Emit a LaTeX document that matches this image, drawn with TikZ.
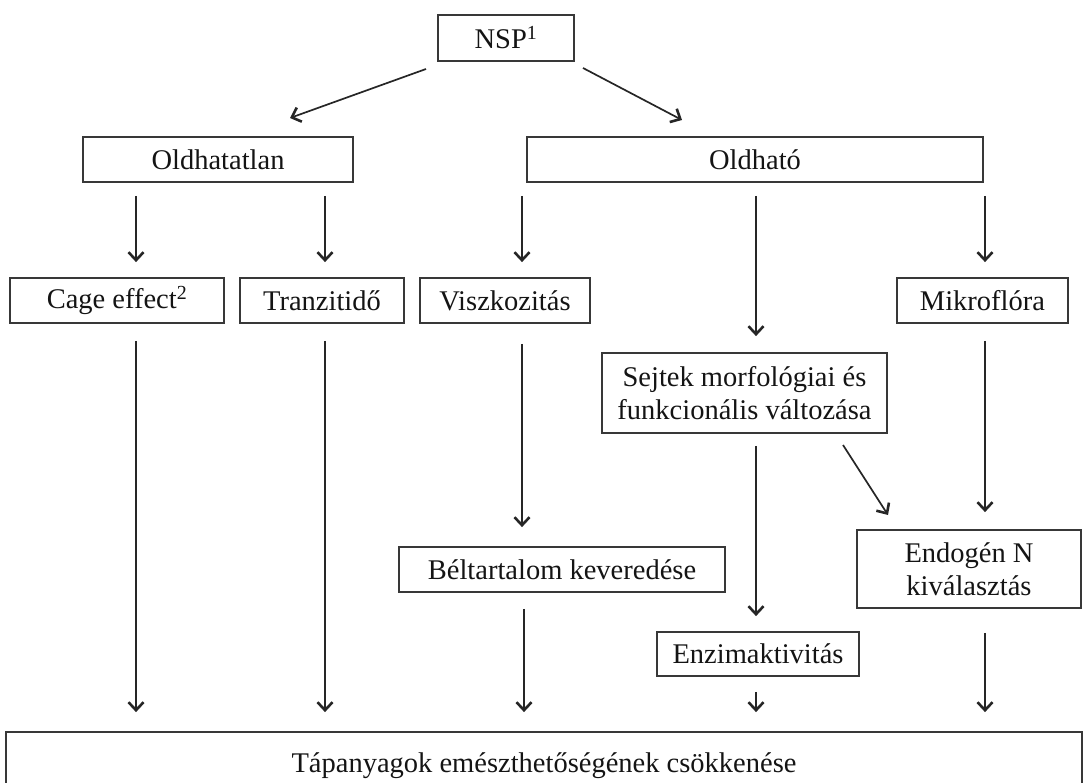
\documentclass[tikz,border=0pt]{standalone}
\usepackage{fontspec}
\setmainfont{Liberation Serif}
\usetikzlibrary{arrows.meta,calc}
\begin{document}
\begin{tikzpicture}[x=1pt,y=-1pt,
  box/.style={draw=black!78,line width=1.8pt,inner sep=0pt,align=center,font=\fontsize{28.5}{33}\selectfont,text=black!92},
  arr/.style={draw=black!85,line width=1.7pt,-{Straight Barb[length=8pt,width=15pt,line width=2.6pt]}}]
\useasboundingbox (0,0) rectangle (1086,783);
% boxes
\node[box,minimum width=136pt,minimum height=46pt] (nsp) at (506,38) {NSP\textsuperscript{1}};
\node[box,minimum width=270pt,minimum height=45pt] (oldhatatlan) at (218,159.5) {Oldhatatlan};
\node[box,minimum width=456pt,minimum height=45pt] (oldhato) at (755,159.5) {Oldható};
\node[box,minimum width=214pt,minimum height=45pt] (cage) at (117,300.5) {Cage effect\textsuperscript{2}};
\node[box,minimum width=164pt,minimum height=45pt] (tranzit) at (322,300.5) {Tranzitidő};
\node[box,minimum width=170pt,minimum height=45pt] (visz) at (505,300.5) {Viszkozitás};
\node[box,minimum width=171pt,minimum height=45pt] (mikro) at (982.5,300.5) {Mikroflóra};
\node[box,minimum width=285pt,minimum height=80pt] (sejtek) at (744.5,393) {Sejtek morfológiai és\\funkcionális változása};
\node[box,minimum width=326pt,minimum height=45pt] (belt) at (562,569.5) {Béltartalom keveredése};
\node[box,minimum width=224pt,minimum height=78pt] (endogen) at (969,569) {Endogén N\\kiválasztás};
\node[box,minimum width=202pt,minimum height=44pt] (enzim) at (758,654) {Enzimaktivitás};
\node[box,minimum width=1076pt,minimum height=68pt] (tap) at (544,766) {Tápanyagok emészthetőségének csökkenése};
% columns
\coordinate (cA) at (136,0);
\coordinate (cB) at (325,0);
\coordinate (cC) at (522,0);
\coordinate (cC2) at (524,0);
\coordinate (cD) at (756,0);
\coordinate (cE) at (985,0);
% diagonal ends
\coordinate (n1) at (426,69);
\coordinate (o1) at (290,118);
\coordinate (n2) at (583,68);
\coordinate (o2) at (682,120);
\coordinate (s1) at (843,445);
\coordinate (e1) at (888,515);
% arrows
\draw[arr] (n1) -- (o1);
\draw[arr] (n2) -- (o2);
\draw[arr,shorten <=13pt,shorten >=15pt] (oldhatatlan.south -| cA) -- (cage.north -| cA);
\draw[arr,shorten <=13pt,shorten >=15pt] (oldhatatlan.south -| cB) -- (tranzit.north -| cB);
\draw[arr,shorten <=13pt,shorten >=15pt] (oldhato.south -| cC) -- (visz.north -| cC);
\draw[arr,shorten <=13pt,shorten >=16pt] (oldhato.south -| cD) -- (sejtek.north -| cD);
\draw[arr,shorten <=13pt,shorten >=15pt] (oldhato.south -| cE) -- (mikro.north -| cE);
\draw[arr,shorten <=17pt,shorten >=19pt] (cage.south -| cA) -- (tap.north -| cA);
\draw[arr,shorten <=17pt,shorten >=19pt] (tranzit.south -| cB) -- (tap.north -| cB);
\draw[arr,shorten <=20pt,shorten >=19pt] (visz.south -| cC) -- (belt.north -| cC);
\draw[arr,shorten <=17pt,shorten >=17pt] (mikro.south -| cE) -- (endogen.north -| cE);
\draw[arr,shorten <=12pt,shorten >=15pt] (sejtek.south -| cD) -- (enzim.north -| cD);
\draw[arr] (s1) -- (e1);
\draw[arr,shorten <=16pt,shorten >=19pt] (belt.south -| cC2) -- (tap.north -| cC2);
\draw[arr,shorten <=15pt,shorten >=19pt] (enzim.south -| cD) -- (tap.north -| cD);
\draw[arr,shorten <=24pt,shorten >=19pt] (endogen.south -| cE) -- (tap.north -| cE);
\end{tikzpicture}
\end{document}
